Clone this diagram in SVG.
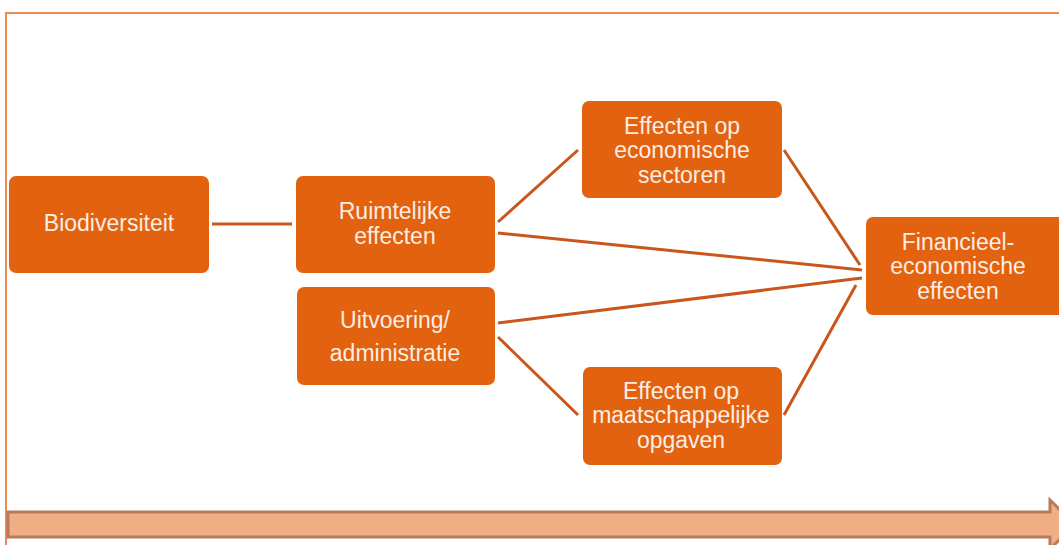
<svg xmlns="http://www.w3.org/2000/svg" width="1059" height="545" viewBox="0 0 1059 545">
<style>
.box{fill:#E2620F;}
.t{font-family:"Liberation Sans",Arial,sans-serif;font-size:23px;fill:#FBEDE3;text-anchor:middle;}
.c{stroke:#C9561A;stroke-width:3;fill:none;}
</style>
<rect width="1059" height="545" fill="#fff"/>
<path d="M6 545 V13 H1059" fill="none" stroke="#EE8A52" stroke-width="2"/>
<g id="connectors">
<line class="c" x1="212" y1="224" x2="292" y2="224"/>
<line class="c" x1="498" y1="222" x2="578" y2="150"/>
<line class="c" x1="498" y1="233" x2="862" y2="270"/>
<line class="c" x1="498" y1="323" x2="862" y2="278"/>
<line class="c" x1="498" y1="337" x2="578" y2="415"/>
<line class="c" x1="784" y1="150" x2="860" y2="265"/>
<line class="c" x1="784" y1="415" x2="856" y2="285"/>
</g>
<g id="biodiversiteit"><rect class="box" x="9" y="176" width="200" height="97" rx="7"/><text class="t" x="109" y="231">Biodiversiteit</text></g>
<g id="ruimtelijke"><rect class="box" x="296" y="176" width="199" height="97" rx="7"/><text class="t" x="395" y="219">Ruimtelijke</text><text class="t" x="395" y="244">effecten</text></g>
<g id="uitvoering"><rect class="box" x="297" y="287" width="198" height="98" rx="7"/><text class="t" x="395" y="328">Uitvoering/</text><text class="t" x="395" y="361">administratie</text></g>
<g id="economisch"><rect class="box" x="582" y="101" width="200" height="97" rx="7"/><text class="t" x="682" y="134">Effecten op</text><text class="t" x="682" y="158">economische</text><text class="t" x="682" y="183">sectoren</text></g>
<g id="maatschappelijk"><rect class="box" x="583" y="367" width="199" height="98" rx="7"/><text class="t" x="681" y="399">Effecten op</text><text class="t" x="681" y="423">maatschappelijke</text><text class="t" x="681" y="448">opgaven</text></g>
<g id="financieel"><rect class="box" x="866" y="217" width="200" height="98" rx="7"/><text class="t" x="958" y="250">Financieel-</text><text class="t" x="958" y="274">economische</text><text class="t" x="958" y="299">effecten</text></g>
<g id="timeline"><path d="M8 512 H1050 V500 L1075 524.5 L1050 549 V537 H8 Z" fill="#F0AE84" stroke="#B77A5B" stroke-width="3"/></g>
</svg>
